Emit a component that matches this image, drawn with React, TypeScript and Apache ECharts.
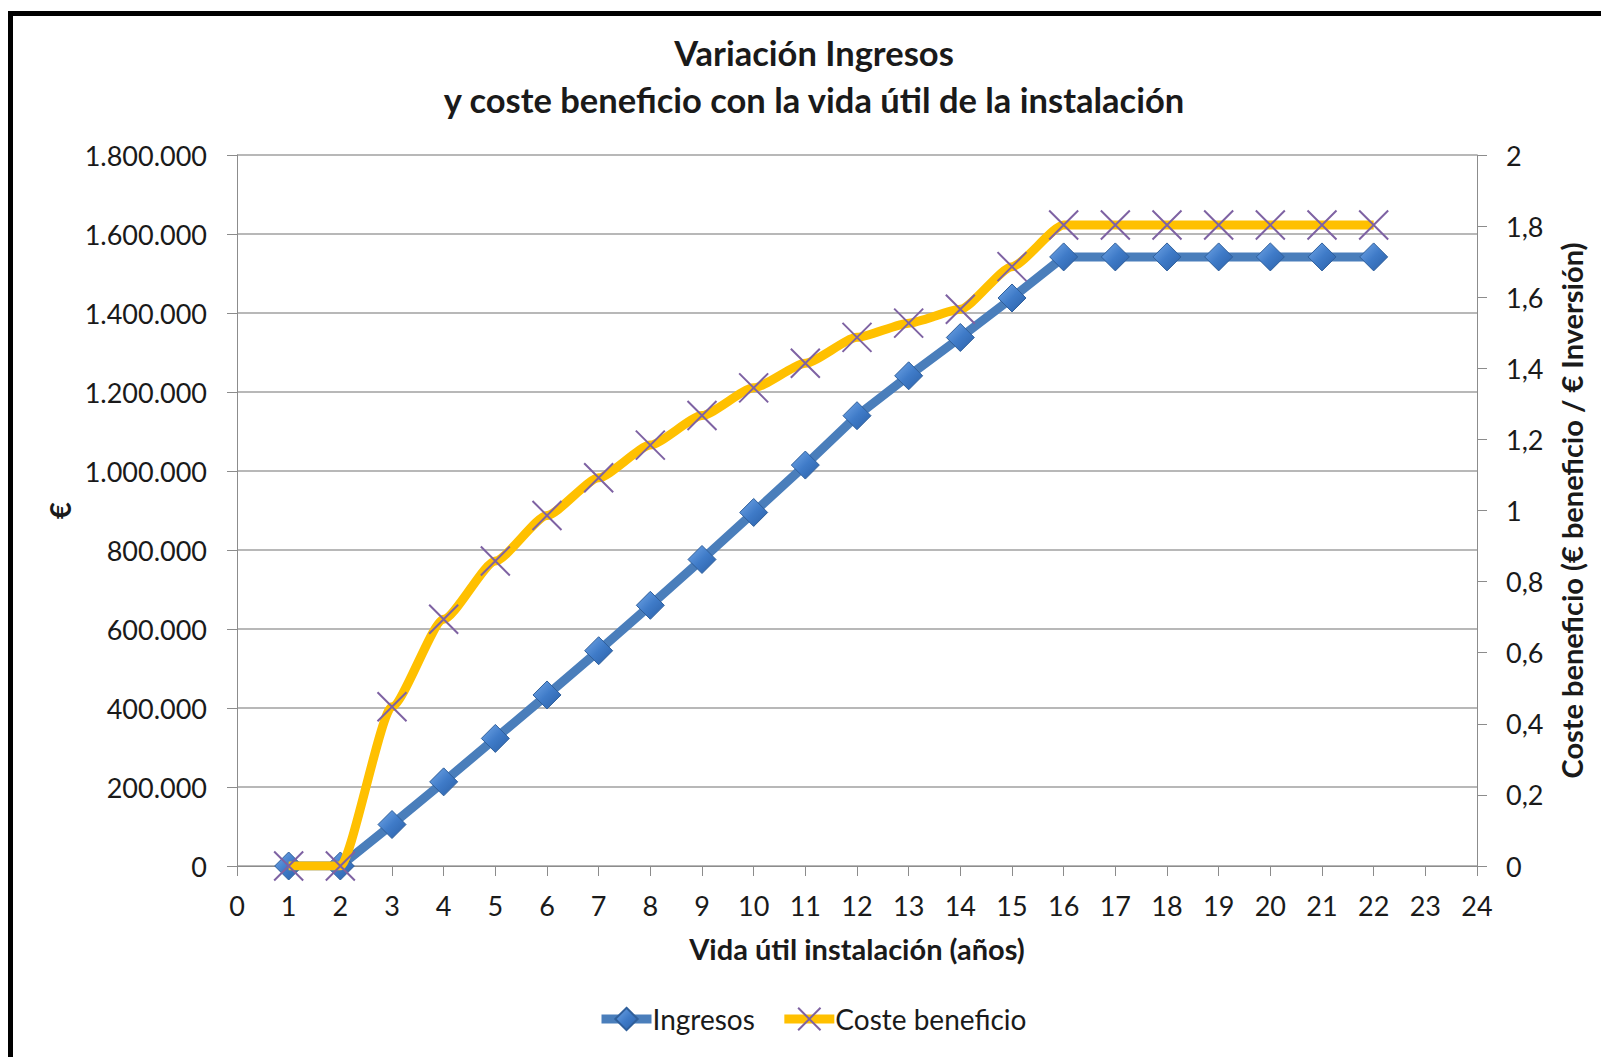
import React, { useEffect, useRef } from "react";
import * as echarts from "echarts";

const years = [1, 2, 3, 4, 5, 6, 7, 8, 9, 10, 11, 12, 13, 14, 15, 16, 17, 18, 19, 20, 21, 22];
const ingresos = [0, 0, 105000, 213000, 323000, 433000, 545000, 660000, 776000, 895000, 1015000, 1140000, 1241000, 1338000, 1438000, 1542000, 1542000, 1542000, 1542000, 1542000, 1542000, 1542000];
const costeBeneficio = [0, 0, 0.448, 0.694, 0.858, 0.986, 1.092, 1.184, 1.267, 1.345, 1.414, 1.487, 1.527, 1.566, 1.686, 1.803, 1.803, 1.803, 1.803, 1.803, 1.803, 1.803];

const titleText = "Variación Ingresos\ny coste beneficio con la vida útil de la instalación";
const xName = "Vida útil instalación (años)";
const yLeftName = "€";
const yRightName = "Coste beneficio (€ beneficio / € Inversión)";
const legendNames = ["Ingresos", "Coste beneficio"];

const FONT = "Lato, 'Open Sans', sans-serif";

export default function App() {
  const ref = useRef<HTMLDivElement>(null);
  useEffect(() => {
    const chart = echarts.init(ref.current!, null, { renderer: "svg" });
    const fmtLeft = (v: number) => String(Math.round(v)).replace(/\B(?=(\d{3})+(?!\d))/g, ".");
    const fmtRight = (v: number) => String(+v.toFixed(1)).replace(".", ",");
    const axisLabelStyle = { color: "#1a1a1a", fontFamily: FONT, fontSize: 27 };
    const nameStyle = { color: "#1a1a1a", fontFamily: FONT, fontSize: 29, fontWeight: "bold" as const };
    chart.setOption({
      animation: false,
      backgroundColor: "#ffffff",
      title: {
        text: titleText,
        left: 809,
        top: 24,
        textAlign: "center",
        textStyle: { color: "#1a1a1a", fontFamily: FONT, fontSize: 34.5, fontWeight: "bold", lineHeight: 47 },
      },
      legend: {
        data: legendNames,
        left: 592,
        top: 1000,
        itemWidth: 50,
        itemHeight: 28,
        itemGap: 25,
        lineStyle: { width: 9 },
        textStyle: { color: "#1a1a1a", fontFamily: FONT, fontSize: 28, padding: [0, 0, 0, -4] },
      },
      grid: { left: 237, right: 124, top: 155, bottom: 191, containLabel: false },
      xAxis: {
        type: "value",
        min: 0,
        max: 24,
        interval: 1,
        name: xName,
        nameLocation: "middle",
        nameGap: 68,
        nameTextStyle: nameStyle,
        axisLine: { show: true, lineStyle: { color: "#8c8c8c", width: 1 } },
        axisTick: { show: true, length: 10, lineStyle: { color: "#8c8c8c" } },
        axisLabel: { ...axisLabelStyle, margin: 26 },
        splitLine: { show: false },
      },
      yAxis: [
        {
          type: "value",
          min: 0,
          max: 1800000,
          interval: 200000,
          position: "left",
          name: yLeftName,
          nameLocation: "middle",
          nameRotate: 90,
          nameGap: 163,
          nameTextStyle: nameStyle,
          axisLine: { show: true, lineStyle: { color: "#8c8c8c", width: 1 } },
          axisTick: { show: true, length: 10, lineStyle: { color: "#8c8c8c" } },
          axisLabel: { ...axisLabelStyle, margin: 30, formatter: fmtLeft },
          splitLine: { show: true, lineStyle: { color: "#a0a0a0", width: 1.5 } },
        },
        {
          type: "value",
          min: 0,
          max: 2,
          interval: 0.2,
          position: "right",
          name: yRightName,
          nameLocation: "middle",
          nameRotate: 90,
          nameGap: 80,
          nameTextStyle: nameStyle,
          axisLine: { show: true, lineStyle: { color: "#8c8c8c", width: 1 } },
          axisTick: { show: true, length: 10, lineStyle: { color: "#8c8c8c" } },
          axisLabel: { ...axisLabelStyle, margin: 29, formatter: fmtRight },
          splitLine: { show: false },
        },
      ],
      series: [
        {
          name: legendNames[0],
          type: "line",
          yAxisIndex: 0,
          data: years.map((y, i) => [y, ingresos[i]]),
          lineStyle: { color: "#4a7ebb", width: 9 },
          symbol: "diamond",
          symbolSize: 28,
          itemStyle: {
            color: new echarts.graphic.LinearGradient(0, 0, 1, 1, [
              { offset: 0, color: "#74a8e8" },
              { offset: 0.5, color: "#3f7bc8" },
              { offset: 1, color: "#2a5fa6" },
            ]),
            borderColor: "#2f5f9b",
            borderWidth: 1,
          },
          z: 2,
        },
        {
          name: legendNames[1],
          type: "line",
          yAxisIndex: 1,
          data: years.map((y, i) => [y, costeBeneficio[i]]),
          smooth: 0.2,
          smoothMonotone: "x",
          lineStyle: { color: "#ffc000", width: 9 },
          symbol: "path://M0,0L20,20M20,0L0,20",
          symbolSize: 29,
          itemStyle: { color: "rgba(0,0,0,0)", borderColor: "#7e62a3", borderWidth: 2 },
          z: 3,
        },
      ],
      graphic: [
        { type: "rect", left: 8, top: 11, shape: { width: 5, height: 1046 }, style: { fill: "#000" }, z: 100 },
        { type: "rect", left: 8, top: 11, shape: { width: 1593, height: 5 }, style: { fill: "#000" }, z: 100 },
      ],
    });
    return () => chart.dispose();
  }, []);
  return (
    <div
      ref={ref}
      style={{ position: "fixed", left: 0, top: 0, width: 1601, height: 1057, background: "#fff" }}
    />
  );
}
